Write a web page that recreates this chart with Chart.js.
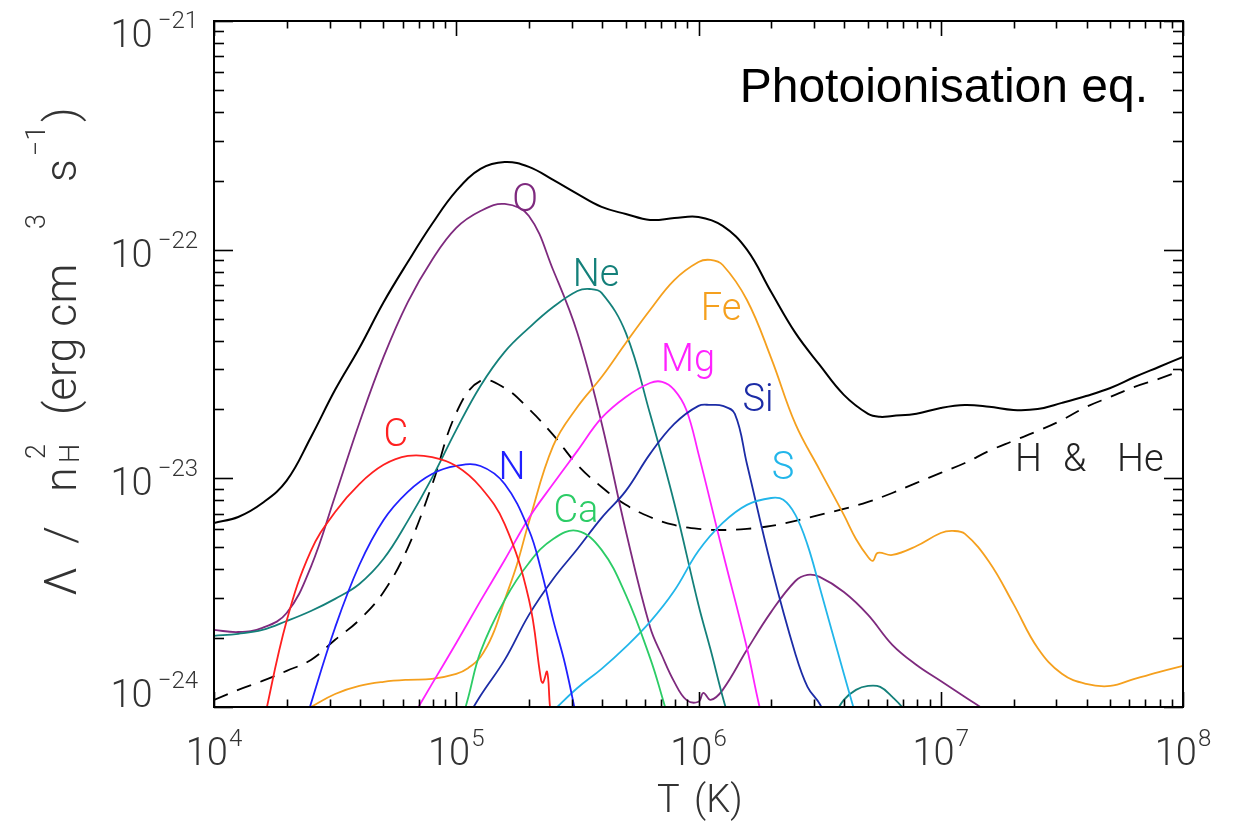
<!DOCTYPE html>
<html><head><meta charset="utf-8">
<script src="https://cdn.jsdelivr.net/npm/chart.js@4"></script>
<style>html,body{margin:0;padding:0;background:#fff;}canvas{display:block;}</style>
</head><body>
<canvas id="c" width="1236" height="822"></canvas>
<script>
// ---------- axis ticks (decade exponents) ----------
const xDecades = [4, 5, 6, 7, 8];
const yDecades = [-24, -23, -22, -21];

// ---------- data: log10 T (K) and log10 Lambda/nH^2 (erg cm^3 s^-1) ----------
const logT_total = [4.0,4.1,4.2,4.3,4.4,4.5,4.6,4.7,4.8,4.9,5.0,5.1,5.2,5.3,5.4,5.5,5.6,5.7,5.8,5.9,6.0,6.1,6.2,6.3,6.4,6.5,6.6,6.7,6.75,6.8,6.9,7.0,7.1,7.2,7.3,7.4,7.5,7.6,7.7,7.8,7.9,8.0];
const logL_total = [-23.195,-23.169,-23.108,-23.010,-22.82,-22.613,-22.43,-22.23,-22.054,-21.888,-21.743,-21.647,-21.617,-21.638,-21.695,-21.756,-21.813,-21.844,-21.870,-21.862,-21.857,-21.896,-22.0,-22.185,-22.364,-22.504,-22.635,-22.718,-22.731,-22.727,-22.718,-22.692,-22.679,-22.687,-22.701,-22.697,-22.670,-22.64,-22.605,-22.557,-22.513,-22.469];

const logT_HHe = [4.0,4.1,4.2,4.3,4.4,4.5,4.6,4.7,4.8,4.9,5.0,5.1,5.2,5.3,5.4,5.5,5.6,5.7,5.8,5.9,6.0,6.1,6.2,6.3,6.4,6.5,6.6,6.7,6.8,6.9,7.0,7.1,7.2,7.3,7.4,7.5,7.6,7.7,7.8,7.9,8.0];
const logL_HHe = [-23.969,-23.925,-23.886,-23.842,-23.794,-23.706,-23.619,-23.497,-23.304,-23.029,-22.714,-22.574,-22.605,-22.697,-22.81,-22.941,-23.038,-23.116,-23.169,-23.204,-23.221,-23.226,-23.221,-23.208,-23.186,-23.160,-23.134,-23.103,-23.064,-23.02,-22.976,-22.933,-22.88,-22.836,-22.793,-22.745,-22.688,-22.644,-22.60,-22.565,-22.526];

const logT_C = [4.2,4.3,4.4,4.5,4.6,4.7,4.8,4.9,5.0,5.1,5.2,5.3,5.35,5.358,5.375,5.387,5.4];
const logL_C = [-24.09,-23.623,-23.317,-23.147,-23.025,-22.941,-22.902,-22.907,-22.946,-23.038,-23.2,-23.53,-23.881,-23.894,-23.846,-23.999,-24.1];

const logT_N = [4.35,4.4,4.5,4.6,4.7,4.8,4.9,5.0,5.1,5.2,5.3,5.35,5.4,5.45,5.5];
const logL_N = [-24.17,-23.986,-23.652,-23.379,-23.182,-23.059,-22.981,-22.946,-22.946,-23.025,-23.226,-23.4,-23.619,-23.816,-24.065];

const logT_O = [4.0,4.1,4.2,4.3,4.4,4.5,4.6,4.7,4.8,4.9,5.0,5.1,5.2,5.3,5.4,5.5,5.6,5.7,5.8,5.85,5.9,5.95,6.0,6.02,6.05,6.1,6.2,6.3,6.4,6.45,6.5,6.6,6.7,6.8,6.9,7.0,7.1,7.2,7.3];
const logL_O = [-23.663,-23.672,-23.654,-23.589,-23.387,-23.077,-22.758,-22.469,-22.229,-22.045,-21.905,-21.831,-21.80,-21.853,-22.089,-22.364,-22.758,-23.23,-23.65,-23.777,-23.89,-23.969,-23.977,-23.938,-23.969,-23.925,-23.75,-23.584,-23.449,-23.422,-23.431,-23.497,-23.597,-23.728,-23.816,-23.886,-23.956,-24.026,-24.10];

const logT_Ne = [4.0,4.1,4.2,4.3,4.4,4.5,4.6,4.7,4.8,4.9,5.0,5.1,5.2,5.3,5.4,5.5,5.55,5.6,5.7,5.8,5.9,6.0,6.05,6.1,6.15,6.35,6.55,6.6,6.65,6.7,6.75,6.8,6.85,6.9];
const logL_Ne = [-23.689,-23.68,-23.663,-23.624,-23.58,-23.527,-23.462,-23.352,-23.186,-22.998,-22.788,-22.596,-22.447,-22.342,-22.251,-22.181,-22.172,-22.189,-22.364,-22.718,-23.108,-23.554,-23.75,-23.956,-24.14,null,-24.056,-23.969,-23.925,-23.908,-23.912,-23.956,-24.013,-24.1];

const logT_Mg = [4.8,4.9,5.0,5.1,5.2,5.3,5.4,5.5,5.6,5.7,5.8,5.85,5.9,5.95,6.0,6.1,6.2,6.25,6.3];
const logL_Mg = [-24.079,-23.899,-23.72,-23.536,-23.357,-23.173,-23.024,-22.88,-22.736,-22.644,-22.583,-22.578,-22.613,-22.701,-22.893,-23.322,-23.742,-23.99,-24.188];

const logT_Si = [4.95,5.0,5.1,5.2,5.3,5.4,5.5,5.6,5.7,5.8,5.9,6.0,6.05,6.1,6.15,6.2,6.3,6.4,6.45,6.5,6.55];
const logL_Si = [-24.231,-24.13,-23.951,-23.794,-23.597,-23.44,-23.309,-23.173,-23.055,-22.893,-22.762,-22.683,-22.679,-22.683,-22.718,-22.937,-23.383,-23.768,-23.912,-23.986,-24.1];

const logT_S = [5.4,5.5,5.6,5.7,5.8,5.9,6.0,6.1,6.2,6.3,6.35,6.4,6.45,6.5,6.6,6.65];
const logL_S = [-24.017,-23.917,-23.833,-23.737,-23.628,-23.492,-23.317,-23.195,-23.116,-23.086,-23.094,-23.16,-23.291,-23.475,-23.855,-24.04];

const logT_Ca = [4.95,5.0,5.05,5.1,5.2,5.3,5.4,5.5,5.6,5.7,5.8,5.85,5.9];
const logL_Ca = [-24.3,-24.144,-23.956,-23.759,-23.532,-23.37,-23.265,-23.23,-23.313,-23.51,-23.785,-23.956,-24.144];

const logT_Fe = [4.4,4.5,4.6,4.7,4.8,4.9,5.0,5.05,5.1,5.15,5.2,5.25,5.3,5.4,5.5,5.6,5.7,5.8,5.9,6.0,6.05,6.1,6.2,6.3,6.4,6.5,6.6,6.65,6.7,6.72,6.74,6.8,6.9,7.0,7.05,7.1,7.2,7.3,7.4,7.5,7.6,7.7,7.8,7.9,8.0];
const logL_Fe = [-24.0,-23.943,-23.908,-23.89,-23.881,-23.877,-23.855,-23.829,-23.781,-23.685,-23.532,-23.379,-23.191,-22.858,-22.688,-22.557,-22.408,-22.264,-22.133,-22.054,-22.045,-22.067,-22.22,-22.474,-22.762,-22.963,-23.16,-23.265,-23.344,-23.361,-23.326,-23.335,-23.296,-23.239,-23.23,-23.243,-23.366,-23.549,-23.742,-23.855,-23.899,-23.908,-23.877,-23.847,-23.82];

// ---------- series label anchors (log T, log Lambda) ----------
const seriesLabels = ['O', 'Ne', 'Fe', 'Mg', 'Si', 'S', 'C', 'N', 'Ca'];
const labelLogT = [5.284, 5.577, 6.093, 5.957, 6.246, 6.349, 4.751, 5.230, 5.494];
const labelLogL = [-21.770, -22.098, -22.246, -22.469, -22.644, -22.941, -22.797, -22.941, -23.129];
const labelColors = ['#7e2a7e', '#14807a', '#f5a01e', '#ff22ff', '#1c2ca6', '#22b6ea', '#ff2020', '#2020ff', '#2ccc66'];
const hheLabel = ['H', '&', 'He'];
const hheLogT = [7.307, 7.505, 7.728];   // left edges of the three words
const hheLogL = -22.906;

const toPts = (ts, ls) => ts.map((t, i) => ({ x: Math.pow(10, t), y: ls[i] === null ? null : Math.pow(10, ls[i]) }));

const series = [
  { label: 'C',  t: logT_C,  l: logL_C,  color: '#ff2020' },
  { label: 'N',  t: logT_N,  l: logL_N,  color: '#2020ff' },
  { label: 'Ca', t: logT_Ca, l: logL_Ca, color: '#2ccc66' },
  { label: 'S',  t: logT_S,  l: logL_S,  color: '#22b6ea' },
  { label: 'Si', t: logT_Si, l: logL_Si, color: '#1c2ca6' },
  { label: 'Mg', t: logT_Mg, l: logL_Mg, color: '#ff22ff' },
  { label: 'Fe', t: logT_Fe, l: logL_Fe, color: '#f5a01e' },
  { label: 'Ne', t: logT_Ne, l: logL_Ne, color: '#14807a' },
  { label: 'O',  t: logT_O,  l: logL_O,  color: '#7e2a7e' },
];

const datasets = series.map(s => ({
  label: s.label, data: toPts(s.t, s.l), borderColor: s.color, borderWidth: 1.8,
  pointRadius: 0, tension: 0.4, spanGaps: false, fill: false
}));
datasets.push({ label: 'H & He', data: toPts(logT_HHe, logL_HHe), borderColor: '#000', borderWidth: 1.8,
  borderDash: [15, 10], pointRadius: 0, tension: 0.4, fill: false });
datasets.push({ label: 'Total', data: toPts(logT_total, logL_total), borderColor: '#000', borderWidth: 2,
  pointRadius: 0, tension: 0.4, fill: false });

const LABEL_FONT = (s) => `300 ${s}px Roboto, "Liberation Sans", sans-serif`;
const TEXT_COLOR = '#333';

const deco = {
  id: 'deco',
  afterDraw(chart) {
    const { ctx, chartArea: a, scales: { x, y } } = chart;
    ctx.save();
    const seg = (x1, y1, x2, y2) => { ctx.beginPath(); ctx.moveTo(x1, y1); ctx.lineTo(x2, y2); ctx.stroke(); };
    // ticks
    ctx.strokeStyle = '#000';
    ctx.lineWidth = 1.6;
    for (const d of xDecades) for (let m = 1; m <= 9; m++) {
      const v = m * Math.pow(10, d);
      if (v > Math.pow(10, xDecades[xDecades.length - 1]) * 1.0001) break;
      const px = Math.round(x.getPixelForValue(v)) + 0.5;
      const L = m === 1 ? 15 : 7.5;
      seg(px, a.bottom, px, a.bottom - L);
      seg(px, a.top, px, a.top + L);
    }
    for (const d of yDecades) for (let m = 1; m <= 9; m++) {
      const v = m * Math.pow(10, d);
      if (v > Math.pow(10, yDecades[yDecades.length - 1]) * 1.0001) break;
      const py = Math.round(y.getPixelForValue(v)) + 0.5;
      const L = m === 1 ? 19 : 10;
      seg(a.left, py, a.left + L, py);
      seg(a.right, py, a.right - L, py);
    }
    // frame
    ctx.lineWidth = 2;
    ctx.strokeRect(a.left, a.top, a.right - a.left, a.bottom - a.top);

    // tick labels
    ctx.fillStyle = TEXT_COLOR;
    ctx.textBaseline = 'alphabetic';
    const mainF = LABEL_FONT(38), supF = LABEL_FONT(24);
    for (const d of xDecades) {
      const px = x.getPixelForValue(Math.pow(10, d));
      ctx.font = mainF; const w1 = ctx.measureText('10').width;
      ctx.font = supF; const w2 = ctx.measureText(String(d)).width;
      const x0 = px - (w1 + w2 + 1) / 2;
      ctx.font = mainF; ctx.textAlign = 'left'; ctx.fillText('10', x0, 765);
      ctx.font = supF; ctx.fillText(String(d), x0 + w1 + 1, 746);
    }
    for (const d of yDecades) {
      const py = y.getPixelForValue(Math.pow(10, d));
      let base = py + 17;
      base = Math.max(47, Math.min(707, base));
      const sup = '\u2212' + String(-d);
      ctx.font = supF; ctx.textAlign = 'right'; ctx.fillText(sup, 198, base - 19);
      const ws = ctx.measureText(sup).width;
      ctx.font = mainF; ctx.fillText('10', 198 - ws - 5, base);
    }

    // x axis title
    ctx.textAlign = 'left';
    ctx.font = LABEL_FONT(38);
    ctx.fillText('T', 657, 812);
    ctx.fillText('(K)', 694, 812);

    // y title (rotated), drawn piecewise with sub/superscripts
    ctx.save();
    ctx.translate(76, 596);
    ctx.rotate(-Math.PI / 2);
    ctx.textAlign = 'left';
    const big = LABEL_FONT(45), small = LABEL_FONT(27);
    const parts = [
      ['\u039B', 0, 0, big], ['/', 52, 0, big], ['n', 104, 0, big], ['H', 133, 3, small], ['2', 137, -31, small],
      ['(erg cm', 181, 0, big], ['3', 367, -31, small], ['s', 414, 0, big], ['\u22121', 440, -31, small], [')', 474, 0, big]
    ];
    for (const [t, dx, dy, f] of parts) { ctx.font = f; ctx.fillText(t, dx, dy); }
    ctx.restore();

    // series labels
    ctx.textAlign = 'center';
    const lf = 38;
    ctx.font = LABEL_FONT(lf);
    seriesLabels.forEach((t, i) => {
      const px = x.getPixelForValue(Math.pow(10, labelLogT[i]));
      const py = y.getPixelForValue(Math.pow(10, labelLogL[i]));
      ctx.fillStyle = labelColors[i];
      ctx.fillText(t, px, py + lf * 0.36);
    });
    ctx.textAlign = 'left';
    ctx.fillStyle = '#222';
    const hy = y.getPixelForValue(Math.pow(10, hheLogL)) + lf * 0.36;
    hheLabel.forEach((t, i) => ctx.fillText(t, x.getPixelForValue(Math.pow(10, hheLogT[i])), hy));

    // panel title
    ctx.fillStyle = '#000';
    ctx.textAlign = 'right';
    ctx.font = '48px "Liberation Sans", Arial, sans-serif';
    ctx.fillText('Photoionisation eq.', 1148, 102);
    ctx.restore();
  }
};

new Chart(document.getElementById('c'), {
  type: 'line',
  data: { datasets },
  options: {
    responsive: false,
    devicePixelRatio: 1,
    animation: false,
    layout: { padding: { left: 214, right: 53, top: 21, bottom: 115 } },
    plugins: { legend: { display: false }, tooltip: { enabled: false } },
    scales: {
      x: { type: 'logarithmic', min: 1e4, max: 1e8, display: false },
      y: { type: 'logarithmic', min: 1e-24, max: 1e-21, display: false }
    }
  },
  plugins: [deco]
});
</script>
</body></html>
